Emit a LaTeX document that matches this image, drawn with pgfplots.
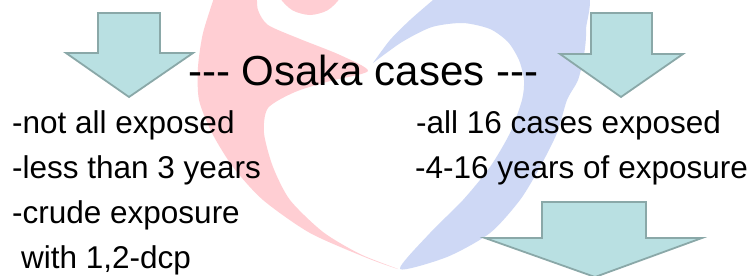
\documentclass[border=0pt]{standalone}
\usepackage{pgfplots}
\pgfplotsset{compat=1.18}
\usepackage{fontspec}
\setmainfont{Liberation Sans}
\definecolor{arrfill}{RGB}{185,224,226}
\definecolor{arrdraw}{RGB}{138,168,168}
\definecolor{pinklogo}{RGB}{255,206,211}
\definecolor{bluelogo}{RGB}{206,216,245}
\begin{document}
\begin{tikzpicture}
\begin{axis}[
  width=756pt, height=276pt, scale only axis,
  xmin=0, xmax=756, ymin=0, ymax=276, y dir=reverse,
  hide axis, clip=true,
]
% background
\addplot[fill=white, draw=none] coordinates {(0,0) (756,0) (756,276) (0,276)} --cycle;
% pink figure: head
\addplot[fill=pinklogo, draw=none, smooth] coordinates {(345,-20) (340.3,-2.5) (327.5,10.3) (310,15) (292.5,10.3) (279.7,-2.5) (275,-20) (279.7,-37.5) (292.5,-50.3) (310,-55) (327.5,-50.3) (340.3,-37.5) (345,-20)} --cycle;
% pink figure: body
\addplot[fill=pinklogo, draw=none, smooth, tension=0.45] coordinates {
 (215,-5) (203,33) (198,67) (199,100) (212,133) (233,167) (263,200) (310,233) (367,258) (398,269)
 (360,254) (323,232) (290,200) (273,167) (264,133) (268,108) (295,92) (330,81) (368,71)
 (340,55) (300,39) (268,25) (258,10) (257,-5)} --cycle;
% blue figure
\addplot[fill=bluelogo, draw=none, smooth, tension=0.45] coordinates {
 (373,63) (390,40) (410,20) (433,0) (450,-15) (581,-15) (586,30) (584,55) (578,80) (567,100)
 (557,133) (540,167) (520,200) (490,233) (447,257) (400,269)
 (430,233) (463,200) (490,167) (510,133) (522,100) (524,80) (519,60) (508,42) (490,29)
 (463,23) (432,27) (402,42) (373,63)} --cycle;
% arrows
\addplot[fill=arrfill, draw=arrdraw, line width=1.8pt, line join=miter] coordinates {(98,13) (160,13) (160,53) (193,53) (129,97) (66,53) (98,53)} --cycle;
\addplot[fill=arrfill, draw=arrdraw, line width=1.8pt, line join=miter] coordinates {(591,13) (652,13) (652,54) (683,54) (621,97) (560,54) (591,54)} --cycle;
\addplot[fill=arrfill, draw=arrdraw, line width=1.8pt, line join=miter] coordinates {(542,202) (646,202) (646,238) (702,238) (595,277) (485,238) (542,238)} --cycle;
% texts
\node[anchor=base west, inner sep=0pt, font=\fontsize{42}{50}\selectfont] at (axis cs:188,85) {{-}{-}{-} Osaka cases {-}{-}{-}};
\node[anchor=base west, inner sep=0pt, font=\fontsize{31.5}{38}\selectfont] at (axis cs:12,133) {-not all exposed};
\node[anchor=base west, inner sep=0pt, font=\fontsize{31.5}{38}\selectfont] at (axis cs:12,178) {-less than 3 years};
\node[anchor=base west, inner sep=0pt, font=\fontsize{31.5}{38}\selectfont] at (axis cs:12,223) {-crude exposure};
\node[anchor=base west, inner sep=0pt, font=\fontsize{31.5}{38}\selectfont] at (axis cs:21,268) {with 1,2-dcp};
\node[anchor=base west, inner sep=0pt, font=\fontsize{31.5}{38}\selectfont] at (axis cs:416,133) {-all 16 cases exposed};
\node[anchor=base west, inner sep=0pt, font=\fontsize{31.5}{38}\selectfont] at (axis cs:415,178) {-4-16 years of exposure};
\end{axis}
\end{tikzpicture}
\end{document}
